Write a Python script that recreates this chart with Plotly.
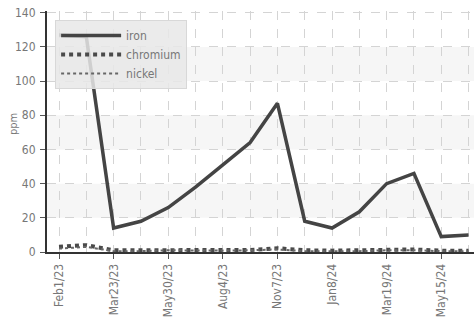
import plotly.graph_objects as go

dates = ["Feb1/23", "Feb27/23", "Mar23/23", "Apr25/23", "May30/23", "Jul3/23",
         "Aug4/23", "Sep20/23", "Nov7/23", "Dec5/23", "Jan8/24", "Feb12/24",
         "Mar19/24", "Apr16/24", "May15/24", "Jun20/24"]
iron = [127, 126, 14, 18, 26, 38, 51, 64, 87, 18, 14, 23.5, 40, 46, 9, 10]
chromium = [3, 4, 1, 1, 1.3, 1, 1, 1.2, 2.2, 1, 0.8, 1, 1.5, 1.5, 0.8, 0.8]
nickel = [2, 3, 0.5, 0.5, 1, 0.8, 0.8, 1, 1.5, 0.5, 0.5, 0.5, 1, 1, 0.5, 0.5]
y_ticks = [0, 20, 40, 60, 80, 100, 120, 140]
bands = [(20, 40), (60, 80), (100, 120)]

idx = list(range(len(dates)))
font = "DejaVu Sans Condensed, Roboto, sans-serif"

fig = go.Figure()
fig.add_trace(go.Scatter(x=idx, y=iron, name="iron", mode="lines",
                         line=dict(color="#444444", width=3.5)))
fig.add_trace(go.Scatter(x=idx, y=chromium, name="chromium", mode="lines",
                         line=dict(color="#4a4a4a", width=4, dash="dot")))
fig.add_trace(go.Scatter(x=idx, y=nickel, name="nickel", mode="lines",
                         line=dict(color="#666666", width=2, dash="dot")))

for lo, hi in bands:
    fig.add_hrect(y0=lo, y1=hi, fillcolor="#f6f6f6", line_width=0, layer="below")

fig.add_annotation(text="ppm", xref="paper", yref="paper", x=-0.08, y=0.53,
                   xanchor="center", yanchor="middle", textangle=-90, showarrow=False,
                   font=dict(size=11, color="#777777", family=font))

fig.update_layout(
    width=474, height=317,
    margin=dict(l=47, r=0, t=11, b=65),
    paper_bgcolor="white", plot_bgcolor="white",
    font=dict(family=font, size=12, color="#777777"),
    showlegend=True,
    legend=dict(x=0.019, y=0.963, xanchor="left", yanchor="top",
                bgcolor="rgba(232,232,232,0.85)", bordercolor="#d8d8d8", borderwidth=1,
                font=dict(size=12, color="#777777", family=font),
                itemwidth=60, tracegroupgap=0),
    xaxis=dict(range=[-0.44, 15.2], tickmode="array",
               tickvals=idx[::2], ticktext=dates[::2], tickangle=-90,
               showgrid=True, gridcolor="#d4d4d4", griddash="dash", gridwidth=1,
               minor=dict(dtick=1, tick0=0, showgrid=True, gridcolor="#d4d4d4",
                          griddash="dash", ticks=""),
               showline=True, linecolor="#333333", linewidth=2,
               ticks="outside", ticklen=5, tickcolor="#555555",
               zeroline=False, tickfont=dict(size=12, color="#777777")),
    yaxis=dict(range=[0, 141], tickvals=y_ticks,
               showgrid=True, gridcolor="#d4d4d4", griddash="dash", gridwidth=1,
               showline=True, linecolor="#333333", linewidth=2,
               ticks="outside", ticklen=5, tickcolor="#555555", ticklabelstandoff=2,
               zeroline=False, tickfont=dict(size=12, color="#777777")),
)

fig.write_html("out.html", config={"displayModeBar": False},
               post_script="document.body.style.margin='0';")
